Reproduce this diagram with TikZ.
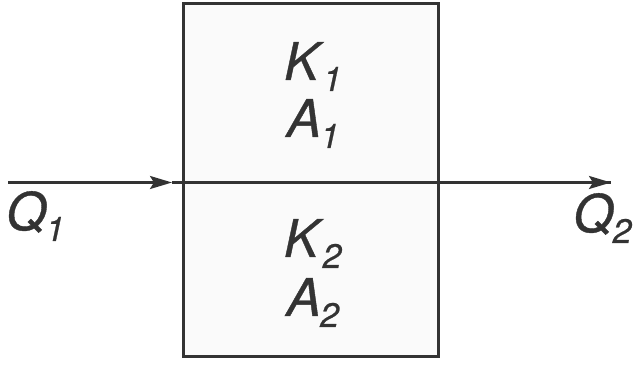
\documentclass[tikz,border=0pt]{standalone}
\usepackage{fontspec}
\setmainfont{TeX Gyre Heros}[ItalicFeatures={FakeBold=0.7}]
\usetikzlibrary{arrows.meta}
\definecolor{ink}{HTML}{333333}
\definecolor{boxfill}{HTML}{FAFAFA}
\newcommand{\symsub}[2]{\textit{#1}\kern-1pt\raisebox{-11pt}{\fontsize{34}{34}\selectfont\textit{#2}}}
\tikzset{
  lbl/.style={inner sep=0pt, anchor=base, text=ink, font=\fontsize{52}{60}\selectfont},
  wall/.style={draw=ink, line width=3pt, fill=boxfill},
  flow/.style={draw=ink, line width=2.6pt, -{Stealth[length=22pt,width=13pt,inset=4pt]}},
  plain/.style={draw=ink, line width=2.6pt}
}
\begin{document}
\begin{tikzpicture}[x=1pt,y=1pt]
\useasboundingbox (0,0) rectangle (633,366);
\node[wall, minimum width=255pt, minimum height=353pt, inner sep=0pt, anchor=south west] (box) at (182,7.5) {};
\coordinate (s) at (8,183.5);
\coordinate (m) at (172,183.5);
\coordinate (e) at (611,183.5);
\draw[plain] (m) -- (e);
\draw[flow] (s) -- (m);
\draw[flow] (box.east |- e) -- (e);
\node[lbl] (k1) at (313,286) {\symsub{K}{1}};
\node[lbl] (a1) at (313,229) {\symsub{A}{1}};
\node[lbl] (k2) at (313,109) {\symsub{K}{2}};
\node[lbl] (a2) at (313,50) {\symsub{A}{2}};
\node[lbl, anchor=base west] (q1) at (6,136) {\symsub{Q}{1}};
\node[lbl, anchor=base west] (q2) at (573,134) {\symsub{Q}{2}};
\end{tikzpicture}
\end{document}
